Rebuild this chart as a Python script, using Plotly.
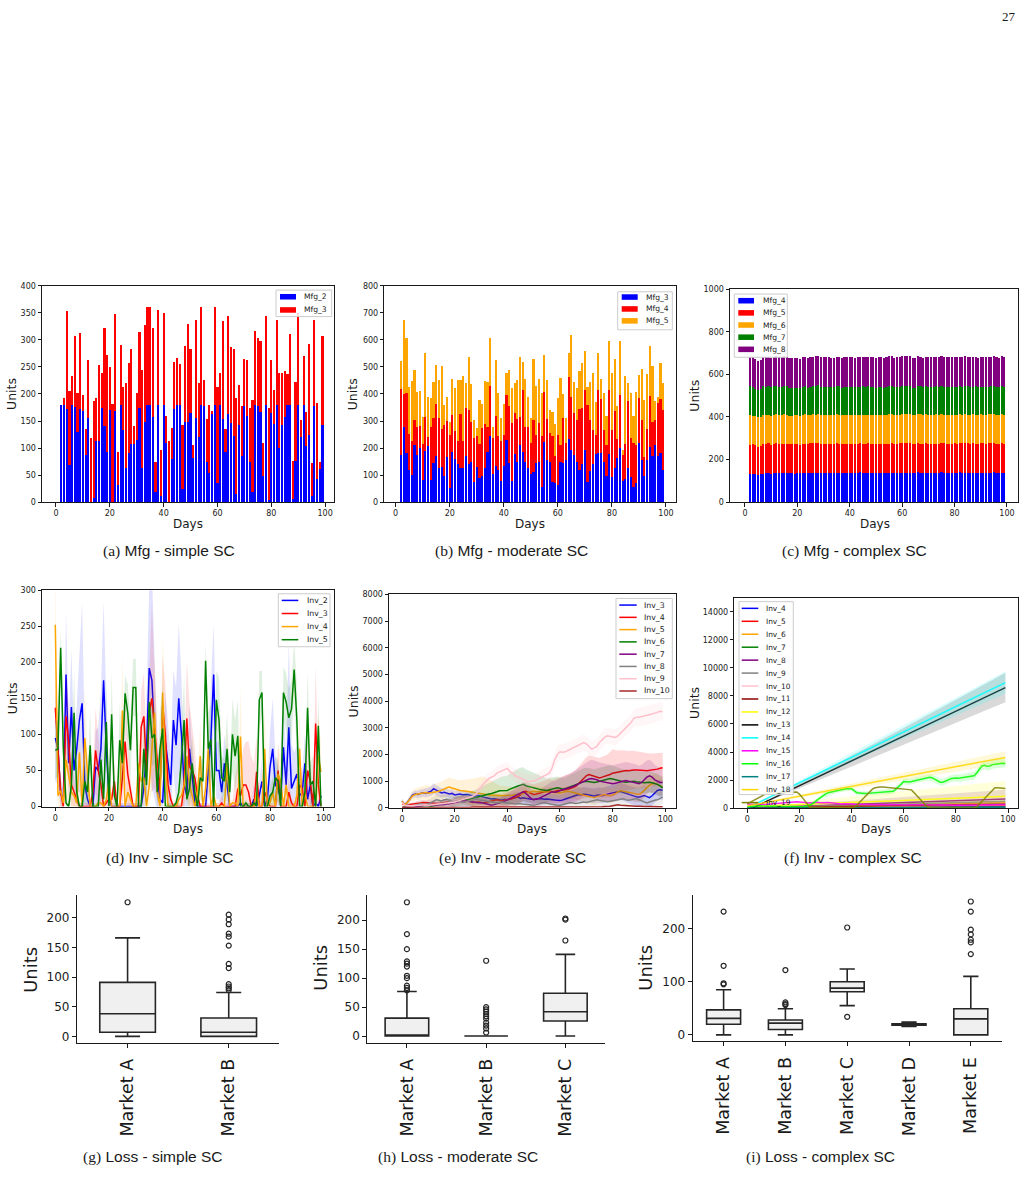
import plotly.graph_objects as go

W, H = 1032, 1177
FONT = "DejaVu Sans"
INK = "#1a1a1a"


def fx(p):
    return p / W


def fy(p):
    return 1 - p / H


# ============================ DATA ============================
days_mfg = list(range(2, 100))
days_inv = list(range(0, 100))

# ---- (a) Mfg - simple SC
mfg_simple_names = ["Mfg_2", "Mfg_3"]
mfg2_simple = [180, 180, 172, 68, 180, 176, 130, 172, 168, 88,
               155, 0, 8, 114, 114, 175, 141, 92, 170, 0,
               168, 32, 180, 133, 63, 90, 107, 107, 115, 175,
               64, 148, 180, 180, 157, 18, 180, 12, 180, 110,
               0, 80, 172, 180, 180, 24, 148, 148, 165, 82,
               155, 120, 180, 177, 74, 54, 165, 180, 36, 180,
               154, 93, 163, 147, 123, 16, 143, 85, 178, 159,
               74, 19, 180, 177, 166, 48, 180, 4, 165, 145,
               180, 101, 143, 158, 180, 180, 5, 76, 180, 121,
               180, 104, 124, 12, 178, 42, 62, 143]
mfg3_simple = [0, 12, 181, 137, 54, 132, 72, 140, 30, 47,
               108, 118, 179, 79, 139, 63, 181, 180, 80, 182,
               180, 61, 110, 80, 158, 168, 177, 33, 87, 139,
               180, 180, 180, 180, 165, 57, 175, 84, 169, 49,
               113, 57, 88, 87, 75, 119, 141, 181, 119, 24,
               181, 101, 180, 49, 79, 126, 3, 180, 177, 58,
               181, 43, 181, 139, 160, 177, 73, 92, 87, 104,
               101, 170, 136, 126, 132, 62, 165, 170, 97, 62,
               157, 138, 96, 85, 57, 130, 72, 146, 170, 31,
               90, 62, 168, 60, 158, 141, 13, 165]

# ---- (b) Mfg - moderate SC
mfg_moderate_names = ["Mfg_3", "Mfg_4", "Mfg_5"]
mfg3_moderate = [176, 278, 180, 120, 100, 210, 175, 200, 83, 190,
                 208, 83, 145, 170, 128, 131, 95, 167, 52, 184,
                 158, 140, 125, 128, 172, 140, 150, 73, 130, 88,
                 97, 125, 185, 245, 103, 133, 120, 80, 135, 230,
                 145, 80, 178, 150, 210, 185, 150, 125, 105, 112,
                 145, 148, 55, 222, 155, 148, 73, 70, 63, 150,
                 143, 156, 232, 193, 175, 148, 120, 140, 192, 75,
                 117, 140, 177, 180, 180, 148, 95, 178, 92, 126,
                 162, 200, 80, 84, 125, 93, 55, 70, 220, 155,
                 97, 155, 205, 172, 210, 170, 183, 118]
mfg4_moderate = [244, 122, 225, 132, 128, 95, 103, 83, 132, 126,
                 32, 195, 165, 193, 185, 141, 191, 133, 196, 138,
                 105, 88, 200, 98, 176, 200, 145, 165, 115, 128,
                 178, 165, 93, 185, 135, 187, 123, 148, 112, 165,
                 210, 213, 152, 157, 105, 230, 128, 153, 115, 193,
                 105, 146, 190, 184, 152, 108, 172, 102, 184, 62,
                 168, 64, 230, 197, 155, 154, 224, 210, 222, 285,
                 188, 128, 70, 236, 203, 117, 115, 237, 176, 212,
                 70, 198, 95, 131, 250, 143, 165, 140, 165, 147,
                 70, 115, 187, 126, 92, 195, 197, 222]
mfg5_moderate = [103, 275, 202, 173, 220, 182, 130, 127, 101, 237,
                 148, 106, 133, 145, 138, 233, 72, 90, 48, 133,
                 160, 225, 128, 239, 94, 198, 141, 66, 30, 161,
                 87, 157, 168, 178, 40, 207, 162, 84, 116, 81,
                 133, 130, 112, 146, 222, 103, 177, 112, 93, 225,
                 178, 163, 158, 139, 145, 84, 88, 118, 138, 246,
                 88, 93, 89, 228, 114, 120, 140, 165, 146, 67,
                 140, 209, 125, 136, 72, 140, 110, 180, 209, 190,
                 123, 199, 18, 250, 67, 169, 98, 198, 87, 191,
                 210, 203, 186, 204, 72, 25, 135, 102]

# ---- (c) Mfg - complex SC
mfg_complex_names = ["Mfg_4", "Mfg_5", "Mfg_6", "Mfg_7", "Mfg_8"]
mfg4_complex = [134, 133, 131, 127, 130, 134, 136, 139, 133, 137, 139, 138, 136, 137,
                136, 135, 136, 134, 136, 137, 138, 137, 136, 138, 137, 136, 137, 135,
                136, 137, 136, 137, 136, 137, 136, 136, 137, 136, 137, 136, 137, 136,
                140, 138, 137, 136, 135, 136, 137, 136, 137, 138, 136, 137, 138, 136,
                137, 138, 139, 137, 138, 139, 136, 137, 140, 139, 137, 138, 137, 139,
                138, 137, 138, 140, 139, 138, 139, 137, 138, 136, 140, 139, 138, 139,
                138, 139, 138, 137, 138, 139, 138, 139, 138, 140, 139, 138, 139, 136]
mfg5_complex = [136, 138, 135, 134, 133, 137, 138, 137, 136, 137, 138, 136, 137, 138,
                137, 136, 135, 137, 136, 133, 135, 137, 136, 138, 139, 140, 141, 138,
                137, 136, 137, 138, 139, 140, 138, 137, 136, 137, 138, 137, 136, 137,
                136, 137, 138, 140, 139, 137, 136, 137, 138, 136, 137, 138, 139, 138,
                137, 138, 140, 141, 139, 137, 136, 137, 138, 136, 137, 138, 137, 136,
                137, 138, 136, 137, 138, 137, 136, 137, 138, 137, 136, 137, 138, 137,
                136, 137, 136, 137, 138, 137, 136, 137, 138, 137, 136, 137, 138, 137]
mfg6_complex = [137, 135, 137, 138, 139, 138, 133, 135, 136, 137, 135, 136, 137, 138,
                136, 135, 134, 136, 137, 135, 136, 138, 135, 134, 136, 135, 136, 137,
                136, 135, 136, 135, 134, 136, 137, 135, 136, 135, 134, 135, 136, 137,
                135, 136, 135, 134, 136, 137, 135, 136, 135, 134, 136, 137, 138, 136,
                135, 134, 136, 137, 138, 136, 135, 134, 136, 137, 135, 136, 134, 135,
                136, 137, 135, 136, 134, 135, 136, 137, 135, 136, 137, 135, 136, 134,
                135, 136, 137, 135, 136, 134, 135, 136, 137, 135, 136, 134, 135, 136]
mfg7_complex = [138, 135, 130, 128, 128, 136, 134, 136, 135, 133, 134, 132, 131, 133,
                135, 132, 130, 131, 129, 130, 131, 132, 130, 131, 133, 132, 134, 131,
                132, 133, 131, 130, 132, 131, 132, 130, 131, 133, 132, 134, 131, 130,
                131, 132, 130, 133, 131, 132, 130, 131, 132, 130, 131, 133, 132, 130,
                131, 132, 130, 131, 132, 133, 131, 130, 131, 132, 130, 131, 132, 130,
                131, 132, 133, 131, 130, 132, 131, 130, 131, 132, 130, 131, 132, 133,
                131, 130, 132, 131, 130, 132, 131, 130, 131, 132, 130, 131, 132, 131]
mfg8_complex = [135, 138, 140, 137, 138, 136, 142, 136, 137, 138, 139, 140, 138, 141,
                138, 137, 140, 139, 138, 137, 139, 138, 140, 139, 138, 141, 140, 139,
                138, 139, 140, 138, 137, 139, 138, 140, 139, 138, 140, 139, 138, 140,
                139, 138, 140, 139, 138, 137, 140, 139, 138, 140, 141, 139, 140, 138,
                139, 140, 141, 138, 139, 140, 139, 138, 140, 139, 138, 140, 139, 141,
                140, 139, 138, 140, 139, 141, 140, 138, 139, 140, 139, 138, 140, 139,
                141, 139, 140, 138, 139, 140, 141, 139, 138, 140, 139, 138, 140, 139]

# ---- (d) Inv - simple SC (mean and std per day)
inv_simple_names = ["Inv_2", "Inv_3", "Inv_4", "Inv_5"]
inv2_simple = [95, 80, 18, 10, 183, 60, 138, 50, 80, 120,
               143, 30, 10, 0, 0, 55, 50, 80, 175, 80,
               15, 0, 0, 0, 0, 0, 0, 0, 0, 0,
               0, 0, 0, 25, 80, 192, 175, 100, 40, 10,
               5, 90, 60, 30, 120, 85, 150, 100, 30, 15,
               80, 40, 5, 0, 0, 0, 0, 50, 95, 183,
               50, 50, 20, 60, 30, 0, 0, 0, 0, 5,
               0, 0, 0, 0, 10, 0, 15, 35, 0, 10,
               55, 80, 30, 25, 10, 82, 30, 110, 25, 35,
               45, 15, 20, 60, 10, 30, 0, 5, 0, 15]
inv2_simple_std = [60, 50, 20, 15, 90, 50, 80, 45, 60, 100,
                   140, 60, 20, 5, 5, 50, 60, 80, 110, 70,
                   30, 5, 5, 5, 5, 5, 5, 5, 5, 5,
                   5, 5, 10, 30, 70, 110, 150, 90, 50, 20,
                   10, 70, 60, 40, 70, 80, 105, 80, 40, 20,
                   60, 40, 10, 5, 5, 5, 5, 40, 70, 70,
                   40, 40, 30, 40, 30, 5, 5, 5, 5, 10,
                   5, 5, 5, 5, 20, 5, 20, 30, 5, 20,
                   50, 70, 40, 30, 20, 60, 40, 120, 60, 40,
                   40, 25, 30, 40, 20, 30, 5, 10, 5, 15]
inv3_simple = [137, 80, 20, 0, 125, 90, 30, 20, 10, 0,
               0, 0, 0, 0, 20, 78, 50, 30, 0, 5,
               10, 10, 35, 0, 0, 40, 90, 45, 20, 0,
               0, 0, 110, 125, 50, 130, 150, 105, 60, 20,
               140, 100, 30, 10, 0, 0, 0, 0, 30, 122,
               55, 50, 40, 15, 0, 0, 0, 0, 0, 0,
               0, 0, 5, 0, 0, 0, 0, 0, 25, 15,
               30, 30, 20, 0, 0, 48, 0, 0, 20, 10,
               0, 0, 0, 50, 0, 0, 0, 20, 5, 0,
               0, 30, 25, 0, 50, 35, 0, 115, 30, 0]
inv3_simple_std = [40, 40, 20, 5, 60, 50, 30, 20, 10, 5,
                   5, 5, 5, 5, 20, 60, 50, 30, 5, 5,
                   10, 10, 30, 5, 5, 40, 60, 45, 20, 5,
                   5, 5, 50, 60, 40, 60, 130, 80, 50, 20,
                   70, 70, 30, 10, 5, 5, 5, 5, 30, 80,
                   90, 60, 40, 15, 5, 5, 5, 5, 5, 5,
                   5, 5, 10, 5, 5, 5, 5, 40, 40, 40,
                   50, 60, 70, 70, 60, 50, 10, 5, 20, 10,
                   5, 5, 5, 40, 5, 5, 5, 20, 5, 5,
                   5, 30, 25, 5, 40, 35, 5, 80, 30, 5]
inv4_simple = [252, 15, 22, 5, 65, 45, 20, 15, 5, 75,
               0, 95, 40, 0, 0, 0, 5, 5, 0, 10,
               35, 0, 0, 0, 0, 133, 0, 20, 10, 0,
               0, 60, 35, 40, 0, 30, 80, 130, 20, 0,
               158, 60, 0, 0, 0, 0, 10, 15, 30, 70,
               30, 15, 0, 20, 70, 0, 25, 80, 0, 15,
               0, 0, 0, 0, 60, 0, 5, 5, 0, 97,
               0, 0, 0, 0, 0, 20, 0, 0, 80, 0,
               5, 20, 0, 45, 35, 0, 30, 0, 0, 0,
               15, 80, 0, 20, 0, 0, 0, 0, 70, 48]
inv4_simple_std = [100, 30, 25, 10, 50, 40, 20, 15, 10, 60,
                   5, 70, 40, 5, 5, 5, 5, 5, 5, 10,
                   30, 5, 5, 5, 5, 80, 5, 20, 10, 5,
                   5, 50, 35, 40, 5, 30, 60, 80, 20, 5,
                   80, 60, 5, 5, 5, 5, 10, 15, 30, 60,
                   30, 15, 5, 20, 50, 5, 25, 60, 5, 15,
                   5, 5, 5, 5, 50, 5, 5, 5, 5, 70,
                   5, 5, 5, 5, 5, 20, 5, 5, 60, 5,
                   5, 20, 5, 40, 35, 5, 30, 5, 5, 5,
                   15, 60, 5, 20, 5, 5, 5, 5, 60, 40]
inv5_simple = [78, 80, 220, 80, 5, 0, 30, 130, 20, 0,
               0, 35, 20, 85, 0, 0, 0, 65, 10, 117,
               0, 128, 15, 0, 92, 60, 157, 130, 78, 165,
               165, 0, 0, 80, 30, 145, 95, 100, 20, 80,
               108, 0, 0, 0, 0, 5, 20, 65, 120, 10,
               25, 60, 20, 0, 40, 35, 202, 80, 93, 0,
               148, 120, 40, 35, 80, 20, 100, 70, 98, 0,
               0, 5, 0, 0, 5, 0, 148, 158, 0, 0,
               15, 20, 40, 35, 0, 158, 145, 123, 135, 190,
               120, 0, 0, 20, 137, 30, 35, 0, 112, 0]
inv5_simple_std = [40, 40, 25, 40, 5, 5, 20, 60, 20, 5,
                   5, 30, 20, 50, 5, 5, 5, 40, 10, 60,
                   5, 60, 15, 5, 50, 40, 25, 40, 40, 40,
                   40, 5, 5, 50, 30, 40, 40, 40, 20, 50,
                   60, 5, 5, 5, 5, 5, 20, 40, 60, 10,
                   25, 40, 20, 5, 30, 30, 25, 50, 50, 5,
                   40, 60, 30, 30, 50, 20, 50, 50, 50, 5,
                   5, 5, 5, 5, 5, 5, 40, 30, 5, 5,
                   15, 20, 30, 30, 5, 35, 40, 40, 40, 40,
                   50, 5, 5, 20, 50, 30, 35, 5, 40, 5]

# ---- (e) Inv - moderate SC
inv_moderate_names = ["Inv_3", "Inv_4", "Inv_5", "Inv_6", "Inv_7", "Inv_8", "Inv_9", "Inv_10"]
inv3_moderate = [250, 120, 200, 350, 480, 520, 500, 540, 560, 550,
                 580, 620, 720, 660, 600, 560, 580, 560, 520, 540,
                 480, 500, 520, 490, 500, 500, 470, 450, 430, 460,
                 420, 400, 380, 360, 330, 340, 310, 300, 290, 320,
                 300, 330, 360, 380, 400, 350, 380, 360, 340, 330,
                 310, 330, 350, 340, 320, 330, 310, 300, 290, 280,
                 270, 290, 330, 360, 400, 420, 460, 500, 480, 510,
                 500, 480, 460, 440, 470, 480, 450, 490, 520, 540,
                 560, 580, 600, 620, 580, 540, 500, 470, 440, 410,
                 400, 430, 460, 420, 380, 450, 550, 650, 680, 660]
inv3_moderate_std = [80, 60, 80, 100, 120, 130, 140, 150, 150, 160,
                     170, 180, 200, 190, 180, 170, 170, 160, 160, 160,
                     150, 150, 150, 140, 140, 140, 140, 130, 130, 130,
                     130, 130, 140, 140, 150, 150, 160, 160, 170, 170,
                     180, 180, 190, 190, 200, 200, 200, 190, 190, 180,
                     180, 180, 190, 190, 200, 200, 210, 210, 220, 220,
                     220, 230, 230, 240, 240, 250, 250, 260, 260, 270,
                     270, 270, 280, 280, 280, 290, 290, 290, 300, 300,
                     300, 310, 310, 320, 320, 320, 330, 330, 330, 340,
                     340, 340, 350, 350, 350, 360, 360, 360, 370, 370]
inv4_moderate = [150, 120, 100, 120, 130, 150, 160, 180, 200, 190,
                 180, 170, 160, 150, 160, 180, 200, 220, 200, 180,
                 220, 250, 280, 300, 280, 250, 230, 200, 210, 220,
                 200, 190, 210, 230, 250, 280, 300, 280, 260, 290,
                 300, 320, 350, 380, 420, 480, 600, 620, 580, 540,
                 500, 520, 550, 580, 600, 620, 640, 600, 620, 650,
                 650, 660, 680, 700, 720, 750, 800, 900, 1000, 1100,
                 1200, 1250, 1220, 1180, 1150, 1120, 1150, 1180, 1200, 1250,
                 1300, 1320, 1350, 1380, 1400, 1400, 1390, 1410, 1420, 1420,
                 1420, 1410, 1400, 1390, 1400, 1410, 1420, 1450, 1480, 1500]
inv4_moderate_std = [50, 50, 60, 60, 70, 70, 80, 80, 90, 90,
                     100, 100, 110, 110, 120, 120, 130, 130, 140, 140,
                     150, 150, 160, 160, 170, 170, 180, 180, 190, 190,
                     200, 200, 210, 210, 220, 230, 240, 250, 260, 270,
                     280, 290, 300, 310, 320, 330, 340, 350, 360, 370,
                     380, 390, 400, 410, 420, 430, 440, 450, 460, 480,
                     500, 520, 540, 560, 580, 600, 620, 640, 660, 680,
                     700, 710, 720, 730, 740, 750, 760, 780, 800, 850,
                     900, 850, 800, 780, 760, 750, 740, 730, 720, 700,
                     680, 670, 660, 650, 640, 630, 620, 600, 580, 560]
inv5_moderate = [250, 100, 200, 350, 450, 500, 520, 540, 560, 570,
                 550, 560, 580, 600, 620, 650, 700, 750, 780, 740,
                 700, 680, 650, 640, 630, 620, 600, 580, 560, 550,
                 540, 520, 500, 480, 470, 460, 450, 440, 450, 460,
                 450, 460, 470, 480, 500, 520, 540, 560, 580, 600,
                 620, 600, 610, 620, 600, 590, 580, 570, 560, 550,
                 560, 580, 600, 620, 600, 580, 560, 540, 500, 470,
                 450, 420, 400, 380, 420, 450, 480, 500, 470, 450,
                 480, 520, 600, 650, 620, 600, 580, 560, 540, 520,
                 500, 560, 650, 750, 850, 900, 920, 880, 820, 800]
inv5_moderate_std = [100, 80, 100, 150, 200, 220, 240, 250, 260, 270,
                     280, 290, 300, 310, 320, 330, 340, 350, 360, 360,
                     360, 370, 380, 400, 420, 450, 480, 520, 560, 600,
                     620, 640, 600, 560, 520, 480, 440, 400, 380, 360,
                     340, 320, 300, 290, 280, 270, 260, 250, 240, 230,
                     220, 210, 200, 200, 200, 200, 200, 200, 200, 200,
                     200, 200, 210, 220, 230, 240, 250, 260, 270, 280,
                     280, 280, 280, 280, 280, 280, 280, 280, 280, 280,
                     280, 280, 290, 300, 300, 300, 300, 300, 300, 300,
                     300, 300, 310, 320, 330, 340, 350, 350, 350, 350]
inv6_moderate = [0, 0, 10, 20, 30, 40, 50, 60, 80, 100,
                 80, 60, 80, 100, 120, 150, 180, 200, 210, 200,
                 220, 250, 280, 300, 320, 300, 330, 350, 380, 420,
                 450, 480, 500, 520, 540, 560, 600, 640, 650, 640,
                 650, 700, 750, 780, 820, 850, 880, 830, 800, 780,
                 760, 720, 700, 680, 660, 650, 680, 700, 720, 750,
                 730, 700, 720, 760, 800, 820, 850, 900, 950, 980,
                 1000, 980, 960, 950, 970, 1000, 1020, 1050, 1080, 1100,
                 1080, 1050, 1020, 1000, 980, 960, 970, 990, 1000, 980,
                 960, 950, 940, 950, 960, 940, 920, 880, 820, 750]
inv6_moderate_std = [20, 20, 30, 40, 50, 60, 70, 80, 90, 100,
                     100, 100, 110, 120, 130, 140, 150, 160, 170, 180,
                     190, 200, 210, 220, 230, 240, 260, 280, 300, 320,
                     340, 360, 380, 400, 420, 450, 480, 500, 520, 540,
                     560, 580, 600, 620, 640, 650, 640, 620, 600, 580,
                     560, 540, 520, 500, 480, 460, 450, 440, 430, 420,
                     420, 420, 430, 440, 450, 460, 470, 480, 490, 500,
                     500, 500, 500, 500, 500, 500, 500, 500, 500, 500,
                     500, 490, 480, 470, 460, 450, 440, 430, 420, 410,
                     400, 400, 400, 400, 400, 400, 400, 400, 400, 400]
inv7_moderate = [0, 0, 10, 20, 30, 50, 60, 80, 90, 100,
                 100, 110, 100, 90, 100, 110, 120, 130, 150, 180,
                 200, 220, 240, 250, 260, 250, 230, 210, 200, 190,
                 200, 180, 150, 120, 100, 120, 150, 180, 200, 250,
                 300, 350, 400, 450, 500, 550, 600, 550, 450, 350,
                 300, 320, 350, 400, 450, 500, 550, 600, 580, 600,
                 650, 680, 700, 720, 750, 800, 850, 900, 950, 1000,
                 1050, 1080, 1100, 1080, 1050, 1000, 980, 950, 920, 900,
                 900, 920, 950, 980, 1000, 1020, 1000, 980, 950, 920,
                 900, 950, 1050, 1150, 1200, 1150, 1050, 1000, 950, 950]
inv7_moderate_std = [20, 20, 30, 40, 50, 60, 70, 80, 90, 100,
                     100, 110, 120, 130, 140, 150, 160, 170, 180, 190,
                     200, 200, 200, 200, 200, 200, 200, 200, 200, 200,
                     200, 190, 180, 170, 160, 170, 180, 190, 200, 220,
                     240, 260, 280, 300, 320, 340, 360, 360, 340, 320,
                     300, 300, 300, 320, 340, 360, 380, 400, 420, 440,
                     460, 480, 500, 520, 540, 560, 580, 600, 620, 640,
                     660, 680, 700, 700, 700, 700, 700, 700, 700, 700,
                     700, 700, 700, 700, 700, 700, 700, 700, 700, 700,
                     680, 660, 640, 620, 600, 580, 560, 540, 520, 500]
inv8_moderate = [0, 50, 100, 80, 60, 100, 120, 150, 130, 110,
                 150, 200, 250, 300, 280, 260, 300, 320, 280, 250,
                 220, 250, 230, 200, 220, 250, 280, 300, 320, 300,
                 280, 260, 250, 240, 220, 200, 180, 200, 220, 200,
                 180, 160, 150, 140, 160, 150, 130, 120, 110, 100,
                 100, 120, 150, 180, 200, 170, 150, 130, 120, 100,
                 100, 120, 150, 170, 200, 180, 160, 180, 200, 220,
                 200, 220, 250, 280, 300, 280, 260, 240, 230, 250,
                 260, 280, 300, 320, 340, 300, 280, 300, 330, 350,
                 300, 250, 200, 180, 220, 260, 280, 300, 350, 400]
inv8_moderate_std = [20, 40, 60, 80, 100, 110, 120, 130, 140, 150,
                     160, 170, 180, 190, 200, 200, 200, 200, 200, 200,
                     200, 200, 200, 200, 200, 200, 200, 200, 200, 200,
                     190, 180, 170, 160, 150, 150, 150, 150, 150, 150,
                     150, 150, 150, 150, 150, 150, 150, 150, 150, 150,
                     150, 150, 160, 170, 180, 180, 180, 170, 160, 150,
                     150, 160, 170, 180, 190, 200, 200, 200, 200, 200,
                     200, 210, 220, 230, 240, 250, 250, 250, 250, 250,
                     250, 250, 250, 250, 250, 250, 250, 250, 250, 250,
                     250, 250, 250, 250, 250, 250, 250, 250, 250, 250]
inv9_moderate = [200, 100, 80, 70, 80, 90, 100, 100, 100, 110,
                 100, 110, 120, 130, 150, 160, 170, 180, 190, 200,
                 220, 250, 280, 300, 330, 360, 400, 450, 500, 650,
                 800, 900, 1000, 1100, 1150, 1200, 1300, 1350, 1400, 1450,
                 1480, 1350, 1300, 1200, 1150, 1100, 1050, 1000, 980, 1000,
                 1000, 1050, 1100, 1150, 1200, 1250, 1300, 1500, 1800, 2000,
                 2100, 2080, 2100, 2150, 2200, 2250, 2300, 2350, 2400, 2450,
                 2400, 2300, 2200, 2250, 2300, 2450, 2550, 2650, 2700, 2680,
                 2650, 2640, 2700, 2800, 2900, 3000, 3100, 3200, 3350, 3400,
                 3400, 3420, 3450, 3480, 3500, 3520, 3550, 3600, 3620, 3600]
inv9_moderate_std = [50, 50, 50, 50, 50, 50, 50, 60, 60, 60,
                     60, 70, 70, 80, 80, 90, 90, 100, 100, 110,
                     110, 120, 120, 130, 130, 140, 150, 160, 170, 180,
                     190, 200, 210, 220, 230, 240, 250, 250, 250, 250,
                     250, 250, 250, 250, 250, 250, 250, 250, 250, 250,
                     250, 250, 250, 260, 270, 280, 290, 300, 300, 300,
                     300, 300, 300, 300, 300, 300, 300, 300, 300, 300,
                     300, 300, 300, 300, 300, 300, 300, 300, 300, 300,
                     300, 300, 300, 300, 300, 300, 300, 310, 320, 330,
                     340, 350, 350, 350, 350, 350, 350, 350, 350, 350]
inv10_moderate = [20, 10, 0, 0, 0, 0, 0, 0, 0, 0,
                  0, 0, 0, 0, 0, 0, 0, 0, 0, 0,
                  0, 0, 0, 0, 0, 0, 20, 30, 30, 30,
                  30, 30, 30, 30, 30, 20, 20, 20, 20, 20,
                  20, 20, 20, 20, 20, 20, 20, 20, 30, 30,
                  30, 30, 30, 30, 30, 30, 30, 30, 30, 30,
                  40, 40, 40, 40, 40, 40, 30, 30, 30, 30,
                  30, 30, 30, 30, 30, 40, 40, 50, 50, 60,
                  80, 100, 110, 100, 90, 80, 80, 70, 60, 60,
                  60, 50, 50, 50, 50, 40, 40, 40, 40, 40]

# ---- (f) Inv - complex SC
inv_complex_names = ["Inv_4", "Inv_5", "Inv_6", "Inv_7", "Inv_8", "Inv_9", "Inv_10", "Inv_11",
                     "Inv_12", "Inv_13", "Inv_14", "Inv_15", "Inv_16", "Inv_17", "Inv_18", "Inv_19"]
inv4_complex = [60, 55, 50, 52, 55, 58, 60, 57, 55, 58,
                60, 62, 60, 58, 60, 62, 64, 62, 60, 62,
                64, 66, 64, 62, 64, 66, 68, 66, 64, 66,
                68, 70, 68, 66, 68, 70, 72, 70, 68, 70,
                72, 74, 72, 70, 72, 74, 76, 74, 72, 74,
                76, 78, 76, 74, 76, 78, 80, 78, 76, 78,
                80, 82, 80, 78, 80, 82, 84, 82, 80, 82,
                84, 86, 84, 82, 84, 86, 88, 86, 84, 86,
                88, 90, 88, 86, 88, 90, 92, 90, 88, 90,
                92, 94, 92, 90, 92, 94, 96, 94, 92, 95]
inv5_complex = [10, 12, 15, 16, 18, 21, 22, 24, 27, 28,
                30, 33, 34, 36, 39, 40, 42, 45, 46, 48,
                51, 52, 54, 57, 58, 60, 63, 64, 66, 69,
                70, 72, 75, 76, 78, 81, 82, 84, 87, 88,
                90, 93, 94, 96, 99, 100, 102, 105, 106, 108,
                111, 112, 114, 117, 118, 120, 123, 124, 126, 129,
                130, 132, 135, 136, 138, 141, 142, 144, 147, 148,
                150, 153, 154, 156, 159, 160, 162, 165, 166, 168,
                171, 172, 174, 177, 178, 180, 183, 184, 186, 189,
                190, 192, 195, 196, 198, 201, 202, 204, 207, 208]
inv6_complex = [0, 5, 8, 13, 16, 20, 25, 28, 33, 36,
                40, 45, 48, 53, 56, 60, 65, 68, 73, 76,
                80, 85, 88, 93, 96, 100, 105, 108, 113, 116,
                120, 125, 128, 133, 136, 140, 145, 148, 153, 156,
                160, 165, 168, 173, 176, 180, 185, 188, 193, 196,
                200, 205, 208, 213, 216, 220, 225, 228, 233, 236,
                240, 245, 248, 253, 256, 260, 265, 268, 273, 276,
                280, 285, 288, 293, 296, 300, 305, 308, 313, 316,
                320, 325, 328, 333, 336, 340, 345, 348, 353, 356,
                360, 365, 368, 373, 376, 380, 385, 388, 393, 396]
inv7_complex = [30, 28, 25, 22, 20, 22, 25, 28, 30, 28,
                25, 22, 20, 22, 25, 28, 30, 32, 30, 28,
                25, 28, 30, 32, 35, 32, 30, 28, 30, 32,
                35, 38, 35, 32, 30, 32, 35, 38, 40, 38,
                35, 38, 40, 42, 45, 42, 40, 38, 40, 42,
                45, 48, 45, 42, 40, 42, 45, 48, 50, 48,
                45, 48, 50, 52, 55, 52, 50, 48, 50, 52,
                55, 58, 55, 52, 50, 52, 55, 58, 60, 58,
                55, 58, 60, 62, 65, 62, 60, 58, 60, 62,
                65, 68, 65, 62, 60, 62, 65, 68, 70, 68]
inv8_complex = [0, 7, 13, 20, 26, 33, 40, 46, 53, 60,
                66, 73, 79, 86, 93, 99, 106, 112, 119, 126,
                132, 139, 146, 152, 159, 165, 172, 179, 185, 192,
                198, 205, 212, 218, 225, 232, 238, 245, 251, 258,
                265, 271, 278, 284, 291, 298, 304, 311, 317, 324,
                331, 337, 344, 350, 357, 364, 370, 377, 384, 390,
                397, 403, 410, 417, 423, 430, 436, 443, 450, 456,
                463, 469, 476, 483, 489, 496, 502, 509, 516, 522,
                529, 536, 542, 549, 555, 562, 569, 575, 582, 588,
                595, 602, 608, 615, 622, 628, 635, 641, 648, 655]
inv9_complex = [0, 5, 10, 15, 20, 25, 30, 35, 40, 45,
                50, 55, 60, 65, 70, 75, 80, 85, 90, 95,
                100, 105, 110, 115, 120, 125, 130, 135, 140, 145,
                150, 155, 160, 165, 170, 175, 180, 185, 190, 195,
                200, 205, 210, 215, 220, 225, 230, 235, 240, 245,
                250, 255, 260, 265, 270, 275, 280, 285, 290, 295,
                300, 305, 310, 315, 320, 325, 330, 335, 340, 345,
                350, 355, 360, 365, 370, 375, 380, 385, 390, 395,
                400, 405, 410, 415, 420, 425, 430, 435, 440, 445,
                450, 455, 460, 465, 470, 475, 480, 485, 490, 495]
inv10_complex = [0, 2, 5, 8, 10, 12, 15, 18, 20, 22,
                 25, 28, 30, 32, 35, 38, 40, 42, 45, 48,
                 50, 52, 55, 58, 60, 62, 65, 68, 70, 72,
                 75, 78, 80, 82, 85, 88, 90, 92, 95, 98,
                 100, 102, 105, 108, 110, 112, 115, 118, 120, 122,
                 125, 128, 130, 132, 135, 138, 140, 142, 145, 148,
                 150, 152, 155, 158, 160, 162, 165, 168, 170, 172,
                 175, 178, 180, 182, 185, 188, 190, 192, 195, 198,
                 200, 202, 205, 208, 210, 212, 215, 218, 220, 222,
                 225, 228, 230, 232, 235, 238, 240, 242, 245, 248]
inv11_complex = [0, 3, 6, 9, 12, 15, 18, 21, 24, 27,
                 30, 33, 36, 39, 42, 45, 48, 51, 54, 57,
                 60, 63, 66, 69, 72, 75, 78, 81, 84, 87,
                 90, 93, 96, 99, 102, 105, 108, 111, 114, 117,
                 120, 123, 126, 129, 132, 135, 138, 141, 144, 147,
                 150, 153, 156, 159, 162, 165, 168, 171, 174, 177,
                 180, 183, 186, 189, 192, 195, 198, 201, 204, 207,
                 210, 213, 216, 219, 222, 225, 228, 231, 234, 237,
                 240, 243, 246, 249, 252, 255, 258, 261, 264, 267,
                 270, 273, 276, 279, 282, 285, 288, 291, 294, 297]
inv12_complex = [100, 108, 115, 123, 130, 138, 145, 153, 160, 168,
                 175, 183, 190, 198, 205, 213, 220, 228, 235, 243,
                 250, 258, 265, 273, 280, 288, 295, 303, 310, 318,
                 325, 333, 340, 348, 355, 363, 370, 378, 385, 393,
                 400, 408, 415, 423, 430, 438, 445, 453, 460, 468,
                 475, 483, 490, 498, 505, 513, 520, 528, 535, 543,
                 550, 558, 565, 573, 580, 588, 595, 603, 610, 618,
                 625, 633, 640, 648, 655, 663, 670, 678, 685, 693,
                 700, 708, 715, 723, 730, 738, 745, 753, 760, 768,
                 775, 783, 790, 798, 805, 813, 820, 828, 835, 850]
inv13_complex = [0, 0, 0, 89, 177, 266, 354, 443, 532, 620,
                 709, 797, 886, 975, 1063, 1152, 1240, 1329, 1418, 1506,
                 1595, 1683, 1772, 1861, 1949, 2038, 2126, 2215, 2304, 2392,
                 2481, 2569, 2658, 2747, 2835, 2924, 3012, 3101, 3190, 3278,
                 3367, 3455, 3544, 3633, 3721, 3810, 3898, 3987, 4076, 4164,
                 4253, 4341, 4430, 4519, 4607, 4696, 4784, 4873, 4962, 5050,
                 5139, 5227, 5316, 5405, 5493, 5582, 5670, 5759, 5848, 5936,
                 6025, 6113, 6202, 6291, 6379, 6468, 6556, 6645, 6734, 6822,
                 6911, 6999, 7088, 7177, 7265, 7354, 7442, 7531, 7620, 7708,
                 7797, 7885, 7974, 8063, 8151, 8240, 8328, 8417, 8506, 8593]
inv14_complex = [0, 90, 181, 271, 362, 452, 543, 633, 724, 814,
                 905, 995, 1086, 1176, 1267, 1357, 1448, 1538, 1629, 1719,
                 1810, 1900, 1991, 2081, 2172, 2262, 2353, 2443, 2534, 2624,
                 2715, 2805, 2896, 2986, 3077, 3167, 3258, 3348, 3439, 3529,
                 3620, 3710, 3801, 3891, 3982, 4072, 4163, 4253, 4344, 4434,
                 4525, 4615, 4706, 4796, 4887, 4977, 5068, 5158, 5249, 5339,
                 5430, 5520, 5611, 5701, 5792, 5882, 5973, 6063, 6154, 6244,
                 6335, 6425, 6516, 6606, 6697, 6787, 6878, 6968, 7059, 7149,
                 7240, 7330, 7421, 7511, 7602, 7692, 7783, 7873, 7964, 8054,
                 8145, 8235, 8326, 8416, 8507, 8597, 8688, 8778, 8869, 8950]
inv15_complex = [300, 280, 250, 260, 270, 250, 240, 260, 280, 300,
                 320, 300, 310, 330, 350, 370, 400, 420, 440, 450,
                 430, 400, 380, 350, 360, 380, 400, 420, 380, 400,
                 420, 400, 380, 350, 330, 320, 300, 310, 320, 300,
                 290, 280, 270, 260, 250, 260, 270, 250, 240, 230,
                 240, 250, 230, 220, 240, 260, 250, 230, 220, 210,
                 220, 230, 240, 250, 260, 270, 250, 240, 230, 220,
                 210, 200, 210, 220, 230, 220, 210, 200, 190, 200,
                 210, 220, 230, 220, 210, 200, 210, 220, 230, 240,
                 250, 240, 230, 220, 230, 240, 250, 260, 270, 250]
inv16_complex = [100, 120, 140, 150, 160, 170, 150, 140, 130, 150,
                 160, 150, 140, 130, 120, 110, 100, 110, 120, 100,
                 90, 80, 100, 150, 200, 300, 450, 600, 750, 900,
                 1000, 1100, 1150, 1200, 1250, 1280, 1300, 1350, 1380, 1400,
                 1380, 1250, 1100, 1080, 1050, 1040, 1050, 1060, 1080, 1100,
                 1120, 1150, 1160, 1150, 1140, 1150, 1200, 1350, 1500, 1700,
                 1900, 1880, 1870, 1900, 1950, 2000, 2050, 2100, 2150, 2200,
                 2200, 2150, 2050, 1950, 1850, 1840, 1900, 2000, 2100, 2150,
                 2150, 2130, 2150, 2200, 2220, 2250, 2280, 2300, 2500, 2750,
                 3000, 3050, 2980, 3000, 3100, 3120, 3150, 3180, 3200, 3180]
inv17_complex = [10, 10, 12, 12, 14, 14, 15, 15, 16, 16,
                 17, 17, 18, 18, 19, 19, 20, 20, 21, 21,
                 22, 22, 23, 23, 24, 24, 25, 25, 26, 26,
                 27, 27, 28, 28, 29, 29, 30, 30, 31, 31,
                 32, 32, 33, 33, 34, 34, 35, 35, 36, 36,
                 37, 37, 38, 38, 39, 39, 40, 40, 41, 41,
                 42, 42, 43, 43, 44, 44, 45, 45, 46, 46,
                 47, 47, 48, 48, 49, 49, 50, 50, 51, 51,
                 52, 52, 53, 53, 54, 54, 55, 55, 56, 56,
                 57, 57, 58, 58, 59, 59, 60, 60, 61, 61]
inv18_complex = [150, 185, 220, 255, 290, 325, 360, 395, 430, 465,
                 500, 535, 570, 605, 640, 675, 710, 745, 780, 815,
                 850, 885, 920, 955, 990, 1025, 1060, 1095, 1130, 1165,
                 1200, 1235, 1270, 1305, 1340, 1375, 1410, 1445, 1480, 1515,
                 1550, 1585, 1620, 1655, 1690, 1725, 1760, 1795, 1830, 1865,
                 1900, 1935, 1970, 2005, 2040, 2075, 2110, 2145, 2180, 2215,
                 2250, 2285, 2320, 2355, 2390, 2425, 2460, 2495, 2530, 2565,
                 2600, 2635, 2670, 2705, 2740, 2775, 2810, 2845, 2880, 2915,
                 2950, 2985, 3020, 3055, 3090, 3125, 3160, 3195, 3230, 3265,
                 3300, 3335, 3370, 3405, 3440, 3475, 3510, 3545, 3580, 3615]
inv19_complex = [300, 400, 500, 600, 700, 800, 900, 1000, 1100, 1100,
                 1100, 1100, 1100, 1100, 1100, 1100, 1100, 1100, 1120, 1150,
                 1000, 800, 550, 300, 50, 0, 0, 0, 0, 0,
                 0, 0, 0, 0, 0, 0, 0, 0, 0, 0,
                 0, 50, 200, 400, 600, 800, 1000, 1200, 1350, 1450,
                 1500, 1500, 1500, 1480, 1460, 1450, 1450, 1440, 1420, 1400,
                 1380, 1350, 1320, 1300, 1100, 900, 700, 500, 300, 100,
                 0, 0, 0, 0, 0, 0, 0, 0, 0, 0,
                 0, 0, 0, 0, 0, 0, 0, 0, 100, 300,
                 500, 700, 900, 1100, 1300, 1450, 1450, 1450, 1420, 1400]

inv8_complex_std = [0, 7, 13, 20, 26, 33, 40, 46, 53, 60,
                    66, 73, 79, 86, 93, 99, 106, 112, 119, 126,
                    132, 139, 146, 152, 159, 165, 172, 179, 185, 192,
                    198, 205, 212, 218, 225, 232, 238, 245, 251, 258,
                    265, 271, 278, 284, 291, 298, 304, 311, 317, 324,
                    331, 337, 344, 350, 357, 364, 370, 377, 384, 390,
                    397, 403, 410, 417, 423, 430, 436, 443, 450, 456,
                    463, 469, 476, 483, 489, 496, 502, 509, 516, 522,
                    529, 536, 542, 549, 555, 562, 569, 575, 582, 588,
                    595, 602, 608, 615, 622, 628, 635, 641, 648, 655]
inv12_complex_std = [0, 11, 22, 33, 44, 55, 66, 77, 88, 99,
                     110, 121, 132, 143, 154, 165, 176, 187, 198, 209,
                     220, 231, 242, 253, 264, 275, 286, 297, 308, 319,
                     330, 341, 352, 363, 374, 385, 396, 407, 418, 429,
                     440, 451, 462, 473, 484, 495, 506, 517, 528, 539,
                     550, 561, 572, 583, 594, 605, 616, 627, 638, 649,
                     660, 671, 682, 693, 704, 715, 726, 737, 748, 759,
                     770, 781, 792, 803, 814, 825, 836, 847, 858, 869,
                     880, 891, 902, 913, 924, 935, 946, 957, 968, 979,
                     990, 1001, 1012, 1023, 1034, 1045, 1056, 1067, 1078, 1089]
inv13_complex_std = [0, 0, 0, 10, 20, 30, 40, 50, 60, 70,
                     80, 90, 100, 110, 120, 130, 140, 150, 160, 170,
                     180, 190, 200, 210, 220, 230, 240, 250, 260, 270,
                     280, 290, 300, 310, 320, 330, 340, 350, 360, 370,
                     380, 390, 400, 410, 420, 430, 440, 450, 460, 470,
                     480, 490, 500, 510, 520, 530, 540, 550, 560, 570,
                     580, 600, 610, 620, 630, 640, 650, 660, 670, 690,
                     700, 710, 720, 730, 740, 760, 770, 780, 790, 800,
                     820, 830, 840, 850, 860, 880, 890, 900, 910, 920,
                     940, 950, 960, 970, 980, 1000, 1010, 1020, 1030, 1050]
inv14_complex_std = [0, 8, 16, 24, 32, 40, 48, 56, 64, 72,
                     80, 88, 96, 104, 112, 120, 128, 136, 144, 152,
                     160, 168, 176, 184, 192, 200, 208, 216, 224, 232,
                     240, 248, 256, 264, 272, 280, 288, 296, 304, 312,
                     320, 328, 336, 344, 352, 360, 368, 376, 384, 392,
                     400, 408, 416, 424, 432, 440, 448, 456, 464, 472,
                     480, 488, 496, 504, 512, 520, 528, 536, 544, 552,
                     560, 568, 576, 584, 592, 600, 608, 616, 624, 632,
                     640, 648, 656, 664, 672, 680, 688, 696, 704, 712,
                     720, 728, 736, 744, 752, 760, 768, 776, 784, 792]
inv16_complex_std = [40, 40, 40, 40, 40, 40, 40, 40, 40, 40,
                     50, 50, 50, 50, 50, 50, 50, 50, 50, 50,
                     60, 60, 60, 80, 100, 120, 140, 160, 180, 200,
                     200, 200, 190, 180, 170, 160, 160, 160, 160, 160,
                     160, 160, 160, 150, 150, 150, 150, 150, 150, 150,
                     160, 160, 160, 170, 170, 170, 180, 190, 200, 210,
                     220, 220, 220, 220, 220, 220, 230, 230, 230, 230,
                     240, 240, 240, 240, 240, 240, 250, 250, 250, 250,
                     260, 260, 260, 260, 260, 270, 270, 270, 280, 290,
                     300, 300, 300, 300, 300, 300, 300, 300, 300, 300]
inv18_complex_std = [40, 44, 48, 52, 56, 60, 64, 68, 72, 76,
                     80, 84, 88, 92, 96, 100, 104, 108, 112, 116,
                     120, 124, 128, 132, 136, 140, 144, 148, 152, 156,
                     160, 164, 168, 172, 176, 180, 184, 188, 192, 196,
                     200, 204, 208, 212, 216, 220, 224, 228, 232, 236,
                     240, 244, 248, 252, 256, 260, 264, 268, 272, 276,
                     280, 284, 288, 292, 296, 300, 304, 308, 312, 316,
                     320, 324, 328, 332, 336, 340, 344, 348, 352, 356,
                     360, 364, 368, 372, 376, 380, 384, 388, 392, 396,
                     400, 404, 408, 412, 416, 420, 424, 428, 432, 436]

# ---- (g)(h)(i) Loss box statistics
markets_simple = ["Market A", "Market B"]
loss_simple_q1 = [7, 0]
loss_simple_median = [38, 7]
loss_simple_q3 = [91, 31]
loss_simple_low = [0, 0]
loss_simple_high = [166, 74]
loss_simple_outliers = [[226], [205, 197, 189, 173, 168, 153, 122, 115, 88, 84, 81, 78]]

markets_moderate = ["Market A", "Market B", "Market C"]
loss_moderate_q1 = [0, 0, 26]
loss_moderate_median = [0, 0, 42]
loss_moderate_q3 = [31, 0, 74]
loss_moderate_low = [0, 0, 0]
loss_moderate_high = [77, 0, 141]
loss_moderate_outliers = [[231, 176, 150, 129, 125, 120, 104, 100, 87, 83, 79],
                          [130, 50, 46, 42, 38, 34, 30, 23, 18, 13, 6],
                          [203, 201, 165]]

markets_complex = ["Market A", "Market B", "Market C", "Market D", "Market E"]
loss_complex_q1 = [20, 10, 81, 18, 0]
loss_complex_median = [31, 22, 88, 19.5, 30]
loss_complex_q3 = [47, 28, 100, 21, 49]
loss_complex_low = [0, 0, 55, 16, 0]
loss_complex_high = [85, 49, 124, 24, 110]
loss_complex_outliers = [[232, 130, 97, 95], [122, 61, 58, 56], [202, 34], [],
                         [251, 232, 198, 189, 179, 174, 152]]

# ============================ STYLE ============================
col_mfg_simple = ["#0000ff", "#ff0000"]
col_mfg_moderate = ["#0000ff", "#ff0000", "#ffa500"]
col_mfg_complex = ["#0000ff", "#ff0000", "#ffa500", "#008000", "#800080"]
col_inv_simple = ["#0000ff", "#ff0000", "#ffa500", "#008000"]
col_inv_moderate = ["#0000ff", "#ff0000", "#ffa500", "#008000", "#800080", "#808080", "#ffc0cb", "#a52a2a"]
col_inv_complex = ["#0000ff", "#ff0000", "#ffa500", "#008000", "#800080", "#808080", "#ffc0cb", "#8b0000",
                   "#ffff00", "#000000", "#00ffff", "#ff00ff", "#00ff00", "#008080", "#ffd700", "#808000"]


def rgba(hexc, a):
    h = hexc.lstrip("#")
    return "rgba(%d,%d,%d,%.2f)" % (int(h[0:2], 16), int(h[2:4], 16), int(h[4:6], 16), a)


# check lengths
for nm, arr in list(globals().items()):
    if isinstance(arr, list) and nm.startswith("inv") and not nm.endswith("names"):
        assert len(arr) == 100, (nm, len(arr))
    if isinstance(arr, list) and nm.startswith("mfg") and not nm.endswith("names"):
        assert len(arr) == 98, (nm, len(arr))

fig = go.Figure()
shapes = []
annots = []


def ax_names(n):
    s = "" if n == 1 else str(n)
    return "xaxis" + s, "yaxis" + s, "x" + s, "y" + s


layout_axes = {}


def frame_panel(n, xpx, ypx, xr, yr, ydt):
    xa, ya, xref, yref = ax_names(n)
    common = dict(showline=True, mirror=True, linecolor=INK, linewidth=1, ticks="outside",
                  ticklen=3.5, tickwidth=0.8, tickcolor=INK, showgrid=False, zeroline=False,
                  tickfont=dict(family=FONT, size=8, color=INK), fixedrange=True,
                  tickformat="d", exponentformat="none")
    layout_axes[xa] = dict(domain=[fx(xpx[0]), fx(xpx[1])], range=xr, anchor=yref,
                           tick0=0, dtick=20, **common)
    layout_axes[ya] = dict(domain=[fy(ypx[1]), fy(ypx[0])], range=yr, anchor=xref,
                           tick0=0, dtick=ydt, **common)
    return xref, yref


def box_panel(n, xpx, ypx, cats, yr, ydt):
    xa, ya, xref, yref = ax_names(n)
    common = dict(showline=True, mirror=False, linecolor=INK, linewidth=1.2, ticks="outside",
                  ticklen=4, tickwidth=1, tickcolor=INK, showgrid=False, zeroline=False,
                  fixedrange=True)
    layout_axes[xa] = dict(domain=[fx(xpx[0]), fx(xpx[1])], type="category",
                           categoryorder="array", categoryarray=cats,
                           range=[-0.5, len(cats) - 0.5], anchor=yref, tickangle=-90,
                           ticklabelstandoff=4,
                           tickfont=dict(family=FONT, size=17.5, color=INK), **common)
    layout_axes[ya] = dict(domain=[fy(ypx[1]), fy(ypx[0])], range=yr, anchor=xref,
                           tick0=0, dtick=ydt, tickformat="d",
                           tickfont=dict(family=FONT, size=12, color=INK), **common)
    return xref, yref


def text(x, y, s, size, angle=0, family=FONT, xanchor="center"):
    annots.append(dict(x=fx(x), y=fy(y), xref="paper", yref="paper", text=s, showarrow=False,
                       textangle=angle, xanchor=xanchor, yanchor="middle",
                       font=dict(family=family, size=size, color=INK)))


def legend(box, names, colors, sym_x, sym_w, text_x, first_y, dy, kind, fsize):
    shapes.append(dict(type="rect", xref="paper", yref="paper", layer="above",
                       x0=fx(box[0]), x1=fx(box[2]), y0=fy(box[3]), y1=fy(box[1]),
                       line=dict(color="#cccccc", width=1), fillcolor="rgba(255,255,255,0.85)"))
    for i, (nm, c) in enumerate(zip(names, colors)):
        yc = first_y + i * dy
        if kind == "bar":
            shapes.append(dict(type="rect", xref="paper", yref="paper", layer="above",
                               x0=fx(sym_x), x1=fx(sym_x + sym_w), y0=fy(yc + 2.8), y1=fy(yc - 2.8),
                               line=dict(width=0), fillcolor=c))
        else:
            shapes.append(dict(type="line", xref="paper", yref="paper", layer="above",
                               x0=fx(sym_x), x1=fx(sym_x + sym_w), y0=fy(yc), y1=fy(yc),
                               line=dict(color=c, width=1.5)))
        text(text_x, yc, nm, fsize, xanchor="left")


def caption(x, y, letter, s):
    text(x, y, '<span style="font-family:Liberation Serif">(%s)</span> %s' % (letter, s), 15.5,
         family="Liberation Sans")


def add_bars(xref, yref, series, colors):
    for vals, c in zip(series, colors):
        fig.add_trace(go.Bar(x=days_mfg, y=vals, width=0.8, marker=dict(color=c, line=dict(width=0)),
                             xaxis=xref, yaxis=yref, showlegend=False, hoverinfo="skip"))


def add_lines(xref, yref, series, stds, colors, alpha=0.12, lw=1.5, opacity=1.0):
    for vals, sd, c in zip(series, stds, colors):
        if sd is not None:
            up = [m + s for m, s in zip(vals, sd)]
            lo = [m - s for m, s in zip(vals, sd)]
            fig.add_trace(go.Scatter(x=days_inv + days_inv[::-1], y=up + lo[::-1], fill="toself",
                                     fillcolor=rgba(c, alpha), line=dict(width=0), mode="lines",
                                     xaxis=xref, yaxis=yref, showlegend=False, hoverinfo="skip"))
        fig.add_trace(go.Scatter(x=days_inv, y=vals, mode="lines", line=dict(color=c, width=lw),
                                 opacity=opacity, xaxis=xref, yaxis=yref, showlegend=False,
                                 hoverinfo="skip"))


def add_boxes(xref, yref, cats, q1, med, q3, lo, hi, outliers):
    fig.add_trace(go.Box(x=cats, q1=q1, median=med, q3=q3, lowerfence=lo, upperfence=hi,
                         fillcolor="#f0f0f0", line=dict(color="#262626", width=1.6),
                         whiskerwidth=0.45, width=0.55, boxpoints=False,
                         xaxis=xref, yaxis=yref, showlegend=False, hoverinfo="skip"))
    ox, oy = [], []
    for cat, outs in zip(cats, outliers):
        ox += [cat] * len(outs)
        oy += outs
    fig.add_trace(go.Scatter(x=ox, y=oy, mode="markers",
                             marker=dict(symbol="circle-open", size=5, color="#262626",
                                         line=dict(width=1.2)),
                             xaxis=xref, yaxis=yref, showlegend=False, hoverinfo="skip"))


# ---------------- (a)
xr, yr = frame_panel(1, (42, 334), (284, 502), [-5.2, 103.3], [0, 400], 50)
add_bars(xr, yr, [mfg2_simple, mfg3_simple], col_mfg_simple)
legend((276, 288.3, 331.7, 315), mfg_simple_names, col_mfg_simple, 280, 16, 301.7, 295, 13.3, "bar", 7.6)
text(188, 524.3, "Days", 12)
text(12, 393, "Units", 12.5, angle=-90)
caption(169, 551.7, "a", "Mfg - simple SC")

# ---------------- (b)
xr, yr = frame_panel(2, (384.3, 675.7), (284, 502), [-4.2, 103.6], [0, 800], 100)
add_bars(xr, yr, [mfg3_moderate, mfg4_moderate, mfg5_moderate], col_mfg_moderate)
legend((617.7, 290, 672.3, 328.3), mfg_moderate_names, col_mfg_moderate, 621.7, 16, 644.3, 295.3, 12,
       "bar", 7.6)
text(530, 524.3, "Days", 12)
text(353.3, 393, "Units", 12.5, angle=-90)
caption(511.7, 551.7, "b", "Mfg - moderate SC")

# ---------------- (c)
xr, yr = frame_panel(3, (730, 1018), (287.3, 502), [-5.7, 104.2], [0, 1000], 200)
add_bars(xr, yr, [mfg4_complex, mfg5_complex, mfg6_complex, mfg7_complex, mfg8_complex], col_mfg_complex)
legend((734.3, 292.3, 787.3, 356), mfg_complex_names, col_mfg_complex, 738.3, 15.7, 760.7, 299, 12.25,
       "bar", 7.6)
text(875, 524.3, "Days", 12)
text(695, 394.7, "Units", 12.5, angle=-90)
caption(854, 551.7, "c", "Mfg - complex SC")

# ---------------- (d)
xr, yr = frame_panel(4, (42, 334.3), (590.7, 808.7), [-4.95, 103.95], [0, 300], 50)
add_lines(xr, yr, [inv2_simple, inv3_simple, inv4_simple, inv5_simple],
          [inv2_simple_std, inv3_simple_std, inv4_simple_std, inv5_simple_std], col_inv_simple, alpha=0.12)
legend((278.3, 594.3, 330, 647.7), inv_simple_names, col_inv_simple, 281.7, 16.6, 305, 601, 13.2,
       "line", 7.8)
text(188, 831.7, "Days", 12)
text(12, 699.7, "Units", 12.5, angle=-90)
caption(169, 861, "d", "Inv - simple SC")

# ---------------- (e)
xr, yr = frame_panel(5, (389, 675.7), (595, 810), [-4.95, 103.95], [0, 8000], 1000)
add_lines(xr, yr,
          [inv3_moderate, inv4_moderate, inv5_moderate, inv6_moderate, inv7_moderate, inv8_moderate,
           inv9_moderate, inv10_moderate],
          [inv3_moderate_std, inv4_moderate_std, inv5_moderate_std, inv6_moderate_std, inv7_moderate_std,
           inv8_moderate_std, inv9_moderate_std, None], col_inv_moderate, alpha=0.15)
legend((616, 599, 672.3, 700), inv_moderate_names, col_inv_moderate, 619.3, 17.4, 642.3, 605.7, 12.37,
       "line", 7.8)
text(532, 831.7, "Days", 12)
text(353.3, 702.5, "Units", 12.5, angle=-90)
caption(512.5, 861, "e", "Inv - moderate SC")

# ---------------- (f)
xr, yr = frame_panel(6, (734.3, 1018.3), (598.3, 810.3), [-4.95, 103.95], [0, 15000], 2000)
add_lines(xr, yr,
          [inv4_complex, inv5_complex, inv6_complex, inv7_complex, inv8_complex, inv9_complex,
           inv10_complex, inv11_complex, inv12_complex, inv13_complex, inv14_complex, inv15_complex,
           inv16_complex, inv17_complex, inv18_complex, inv19_complex],
          [None, None, None, None, inv8_complex_std, None, None, None, inv12_complex_std,
           inv13_complex_std, inv14_complex_std, None, inv16_complex_std, None, inv18_complex_std, None],
          col_inv_complex, alpha=0.15, opacity=0.85)
legend((739, 602.3, 793.3, 796.7), inv_complex_names, col_inv_complex, 741.7, 16.6, 764.3, 609, 13.05,
       "line", 7.4)
text(876, 831.7, "Days", 12)
text(695, 704.3, "Units", 12.5, angle=-90)
caption(853, 861, "f", "Inv - complex SC")

# ---------------- (g)
xr, yr = box_panel(7, (77, 279.3), (898.3, 1046.7), markets_simple, [-10.7, 237.5], 50)
add_boxes(xr, yr, markets_simple, loss_simple_q1, loss_simple_median, loss_simple_q3,
          loss_simple_low, loss_simple_high, loss_simple_outliers)
text(30.3, 973, "Units", 18, angle=-90)
caption(153, 1162.3, "g", "Loss - simple SC")

# ---------------- (h)
xr, yr = box_panel(8, (367.3, 605), (898.3, 1046.7), markets_moderate, [-11.5, 242.8], 50)
add_boxes(xr, yr, markets_moderate, loss_moderate_q1, loss_moderate_median, loss_moderate_q3,
          loss_moderate_low, loss_moderate_high, loss_moderate_outliers)
text(320.5, 971.7, "Units", 18, angle=-90)
caption(458, 1162.3, "h", "Loss - moderate SC")

# ---------------- (i)
xr, yr = box_panel(9, (692.7, 1001.7), (898.3, 1045), markets_complex, [-11.6, 262.4], 100)
add_boxes(xr, yr, markets_complex, loss_complex_q1, loss_complex_median, loss_complex_q3,
          loss_complex_low, loss_complex_high, loss_complex_outliers)
text(645.5, 971.7, "Units", 18, angle=-90)
caption(820, 1162.3, "i", "Loss - complex SC")

# page number
text(1009, 13, "27", 13, family="Liberation Serif")

fig.update_layout(width=W, height=H, margin=dict(l=0, r=0, t=0, b=0),
                  paper_bgcolor="white", plot_bgcolor="white", barmode="stack",
                  showlegend=False, shapes=shapes, annotations=annots, **layout_axes)

fig.write_html("out.html")
